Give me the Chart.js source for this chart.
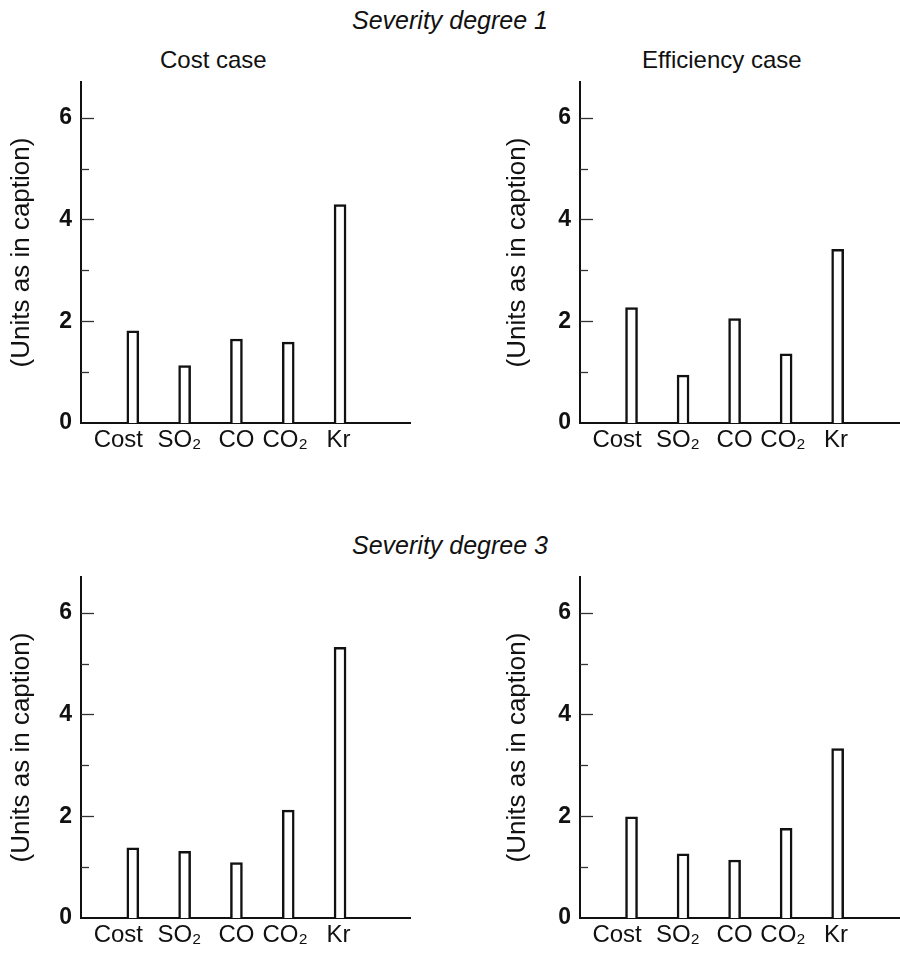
<!DOCTYPE html>
<html>
<head>
<meta charset="utf-8">
<script src="https://cdn.jsdelivr.net/npm/chart.js@4.4.1/dist/chart.umd.min.js"></script>
<style>
  body { margin: 0; width: 900px; height: 954px; overflow: hidden; background: #fff;
         font-family: "Liberation Sans", Arial, sans-serif; color: #111; }
  .wrap { position: relative; width: 900px; height: 954px; }
  canvas { position: absolute; }
  .heading { position: absolute; font-size: 24px; line-height: 24px; white-space: nowrap; }
  .severity { font-style: italic; font-size: 25px; left: 0; width: 900px; text-align: center; }
</style>
</head>
<body>
<div class="wrap">
  <div class="heading severity" style="top:8px">Severity degree 1</div>
  <div class="heading" style="left:160px; top:48px">Cost case</div>
  <div class="heading" style="left:642px; top:48px">Efficiency case</div>
  <div class="heading severity" style="top:533px">Severity degree 3</div>

  <canvas id="sev1Cost" width="450" height="463" style="left:0; top:0"></canvas>
  <canvas id="sev1Eff" width="450" height="463" style="left:450px; top:0"></canvas>
  <canvas id="sev3Cost" width="450" height="454" style="left:0; top:500px"></canvas>
  <canvas id="sev3Eff" width="450" height="454" style="left:450px; top:500px"></canvas>
</div>

<script>
// categories along the x axis
const categories = ['Cost', 'SO₂', 'CO', 'CO₂', 'Kr'];

// bar heights (units as in caption)
const sev1CostCase = [1.81, 1.13, 1.65, 1.59, 4.29];
const sev1EfficiencyCase = [2.27, 0.94, 2.05, 1.36, 3.41];
const sev3CostCase = [1.38, 1.31, 1.09, 2.12, 5.32];
const sev3EfficiencyCase = [1.99, 1.26, 1.14, 1.76, 3.33];

// y axis: labelled ticks and the short unlabelled ones
const yTickLabels = [0, 2, 4, 6];
const yMinorTicks = [1, 3, 5];
const yMax = 6.7;

// labels sit a bit left of their bars in the original print
const labelNudge = [-0.28, -0.1, 0, -0.06, -0.03];

const FONT = '"Liberation Sans", Arial, sans-serif';
const INK = '#111';


// short tick marks drawn inward from the y axis
const inwardTicks = {
  id: 'inwardTicks',
  afterDraw(chart) {
    const yScale = chart.scales.y;
    const left = chart.chartArea.left;
    const ctx = chart.ctx;
    ctx.save();
    ctx.strokeStyle = '#333';
    ctx.lineWidth = 1.3;
    const all = yTickLabels.filter(v => v > 0).map(v => [v, 13])
      .concat(yMinorTicks.map(v => [v, 8]));
    all.forEach(([v, len]) => {
      const py = Math.round(yScale.getPixelForValue(v)) + 0.5;
      ctx.beginPath();
      ctx.moveTo(left, py);
      ctx.lineTo(left + len, py);
      ctx.stroke();
    });
    ctx.restore();
  }
};


function makeChart(id, values, layout) {
  return new Chart(document.getElementById(id), {
    type: 'bar',
    data: {
      datasets: [{
        data: values.map((v, i) => ({ x: i + 1, y: v })),
        backgroundColor: '#fff',
        borderColor: INK,
        borderWidth: 2.5,
        barThickness: 12
      }]
    },
    options: {
      responsive: false,
      animation: false,
      layout: {
        padding: { top: layout.padTop, left: layout.padLeft, right: layout.padRight, bottom: 0 }
      },
      plugins: {
        legend: { display: false },
        tooltip: { enabled: false }
      },
      scales: {
        x: {
          type: 'linear',
          offset: false,
          min: 0,
          max: layout.xMax,
          z: 1,
          grid: { display: false, drawTicks: false, offset: false },
          border: { display: true, color: INK, width: 2 },
          afterBuildTicks: scale => {
            scale.ticks = categories.map((c, i) => ({ value: i + 1 + labelNudge[i] }));
          },
          afterFit: scale => { scale.height = layout.xHeight; },
          ticks: {
            autoSkip: false,
            maxRotation: 0,
            padding: 3,
            color: INK,
            font: { family: FONT, size: 24 },
            callback: (v, i) => categories[i]
          }
        },
        y: {
          min: 0,
          max: yMax,
          grid: { display: false, drawTicks: false },
          border: { display: true, color: INK, width: 2 },
          afterBuildTicks: scale => {
            scale.ticks = yTickLabels.map(v => ({ value: v }));
          },
          afterFit: scale => { scale.width = layout.axisWidth; },
          ticks: {
            padding: 9,
            color: INK,
            font: { family: FONT, size: 23, weight: 'bold' }
          },
          title: {
            display: true,
            text: '(Units as in caption)',
            color: INK,
            padding: { top: 6, bottom: 0 },
            font: { family: FONT, size: 26 }
          }
        }
      }
    },
    plugins: [inwardTicks]
  });
}

makeChart('sev1Cost', sev1CostCase, { padTop: 82, padLeft: 0, padRight: 40, axisWidth: 81, xMax: 6.35, xHeight: 40 });
makeChart('sev1Eff', sev1EfficiencyCase, { padTop: 82, padLeft: 46, padRight: 0, axisWidth: 84, xMax: 6.21, xHeight: 40 });
makeChart('sev3Cost', sev3CostCase, { padTop: 77, padLeft: 0, padRight: 40, axisWidth: 81, xMax: 6.35, xHeight: 36 });
makeChart('sev3Eff', sev3EfficiencyCase, { padTop: 77, padLeft: 46, padRight: 0, axisWidth: 84, xMax: 6.21, xHeight: 36 });
</script>
</body>
</html>
